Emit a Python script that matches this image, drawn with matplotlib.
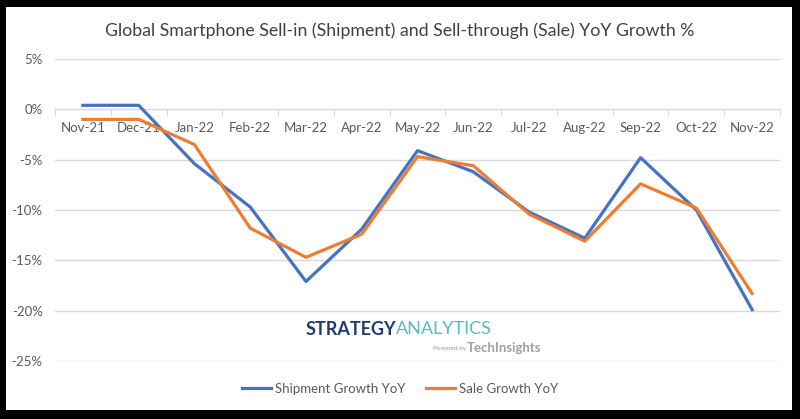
import matplotlib.pyplot as plt
from matplotlib.patches import Rectangle
from matplotlib.ticker import FuncFormatter, FixedLocator

# data
months = ['Nov-21', 'Dec-21', 'Jan-22', 'Feb-22', 'Mar-22', 'Apr-22', 'May-22',
          'Jun-22', 'Jul-22', 'Aug-22', 'Sep-22', 'Oct-22', 'Nov-22']
shipment = [0.4, 0.4, -5.4, -9.7, -17.1, -11.9, -4.1, -6.2, -10.2, -12.8, -4.8, -10.0, -19.9]
sale = [-1.0, -1.0, -3.5, -11.8, -14.7, -12.4, -4.7, -5.6, -10.4, -13.1, -7.4, -9.8, -18.3]
yticks = [5, 0, -5, -10, -15, -20, -25]

BLUE = '#4472C4'
ORANGE = '#ED7D31'
GRID = '#D9D9D9'
TXT = '#595959'
plt.rcParams['font.family'] = ['Lato', 'DejaVu Sans']

fig = plt.figure(figsize=(8, 4.19), dpi=100, facecolor='black')
W, H = 800, 419
fig.patches.append(Rectangle((6 / W, 1 - 410 / H), 786 / W, 403 / H,
                             transform=fig.transFigure, facecolor='white',
                             edgecolor='none', zorder=-10))

ax = fig.add_axes([55 / W, 1 - 361 / H, 725 / W, 302 / H])
ax.set_facecolor('none')
x = list(range(len(months)))
ax.plot(x, shipment, color=BLUE, lw=2.3, label='Shipment Growth YoY', zorder=3)
ax.plot(x, sale, color=ORANGE, lw=2.3, label='Sale Growth YoY', zorder=3)

ax.set_xlim(-0.5, len(months) - 0.5)
ax.set_ylim(-25, 5)
ax.set_yticks(yticks)
ax.yaxis.set_major_formatter(FuncFormatter(lambda v, p: f'{v:.0f}%'))
ax.tick_params(axis='y', length=0, pad=9, labelsize=9.5, labelcolor=TXT)
ax.grid(axis='y', color=GRID, lw=1)
ax.set_axisbelow(True)

for s in ['top', 'right', 'left']:
    ax.spines[s].set_visible(False)
ax.spines['bottom'].set_position(('data', 0))
ax.spines['bottom'].set_color(GRID)
ax.xaxis.set_major_locator(FixedLocator([i - 0.5 for i in range(len(months) + 1)]))
ax.xaxis.set_major_formatter(FuncFormatter(lambda v, p: ''))
ax.xaxis.set_minor_locator(FixedLocator(x))
ax.set_xticklabels(months, minor=True)
ax.tick_params(axis='x', which='major', length=5, color=GRID, direction='out')
ax.tick_params(axis='x', which='minor', length=0, pad=9, labelsize=9.5, labelcolor=TXT)

fig.text(400 / W, 1 - 31 / H, 'Global Smartphone Sell-in (Shipment) and Sell-through (Sale) YoY Growth %',
         ha='center', va='center', fontsize=12.8, color='#404040')

# logo
fig.text(396 / W, 1 - 329 / H, 'STRATEGY', ha='right', va='center', fontsize=13,
         fontweight='bold', color='#1F3A6B')
fig.text(396 / W, 1 - 329 / H, 'ANALYTICS', ha='left', va='center', fontsize=13,
         color='#5BB8C4')
fig.text(466 / W, 1 - 348 / H, 'Powered by', ha='right', va='center', fontsize=4.5,
         color='#9A9A9A')
fig.text(467 / W, 1 - 348 / H, 'TechInsights', ha='left', va='center', fontsize=9.5,
         fontweight='bold', color='#A0A0A0')

fig.legend(loc='center', bbox_to_anchor=(400 / W, 1 - 389 / H), ncol=2, frameon=False,
           fontsize=9.5, labelcolor=TXT, handlelength=2.2, columnspacing=1.5,
           handletextpad=0.3)

fig.savefig('out.png', dpi=100, facecolor='black')
